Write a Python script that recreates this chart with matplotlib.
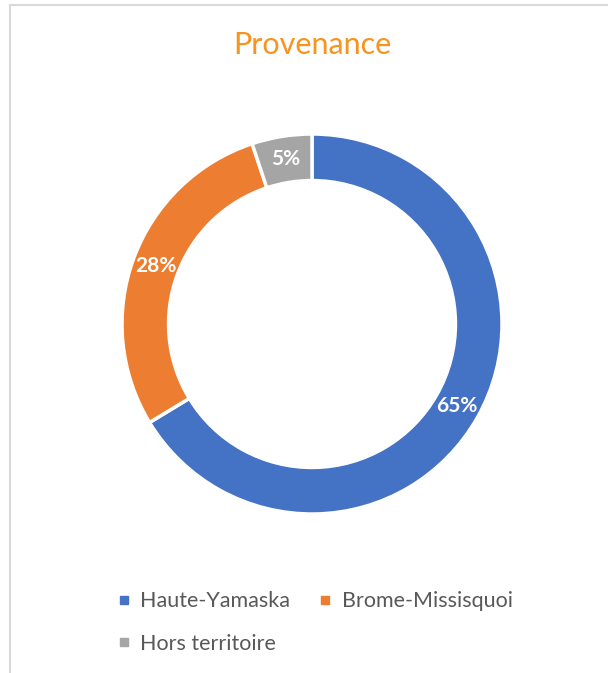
import numpy as np
import matplotlib
matplotlib.use("Agg")
import matplotlib.pyplot as plt
from matplotlib.lines import Line2D
from matplotlib.patches import Rectangle

# data
categories = ["Haute-Yamaska", "Brome-Missisquoi", "Hors territoire"]
values = [65, 28, 5]
colors = ["#4472C4", "#ED7D31", "#A5A5A5"]
title = "Provenance"

W, H = 608, 673
fig = plt.figure(figsize=(W / 100, H / 100), dpi=100)
plt.rcParams['font.family'] = ['Lato', 'DejaVu Sans']

# thin grey frame (only left and top edges visible in the crop)
frame = Rectangle((10 / W, -0.1), 1.2, (H - 5) / H + 0.1, transform=fig.transFigure,
                  fill=False, edgecolor="#D9D9D9", linewidth=1.5)
fig.patches.append(frame)

# donut axes, centre at (312, 324) px, radius 190 px
cx, cy, r = 312, 324, 190
ax = fig.add_axes([(cx - r) / W, (H - cy - r) / H, 2 * r / W, 2 * r / H])
ring = 0.245
wedges, _ = ax.pie(values, colors=colors, startangle=90, counterclock=False,
                   radius=1, wedgeprops=dict(width=ring, edgecolor="white", linewidth=2.5))
ax.set_xlim(-1, 1)
ax.set_ylim(-1, 1)
ax.set_aspect("equal")
ax.axis("off")

# value labels in the middle of each ring segment
for w, v in zip(wedges, values):
    ang = np.deg2rad((w.theta1 + w.theta2) / 2)
    rr = 1 - ring / 2
    ax.text(rr * np.cos(ang), rr * np.sin(ang), f"{v}%", color="white",
            fontsize=15, fontweight="bold", ha="center", va="center")

fig.text(cx / W, 1 - 45 / H, title, color="#F7941D", fontsize=22,
         ha="center", va="center")

# legend fills column by column: put "Hors territoire" under the first entry
order = [0, 2, 1]
handles = [Line2D([], [], marker="s", linestyle="none", markersize=6,
                  markerfacecolor=colors[i], markeredgecolor=colors[i]) for i in order]
fig.legend(handles, [categories[i] for i in order], ncol=2, loc="upper left",
           bbox_to_anchor=(98 / W, 1 - 572 / H), frameon=False,
           fontsize=15.5, labelcolor="#595959", handlelength=0.6,
           handletextpad=0.45, columnspacing=1.35, labelspacing=1.05)

fig.savefig("out.png", dpi=100)
